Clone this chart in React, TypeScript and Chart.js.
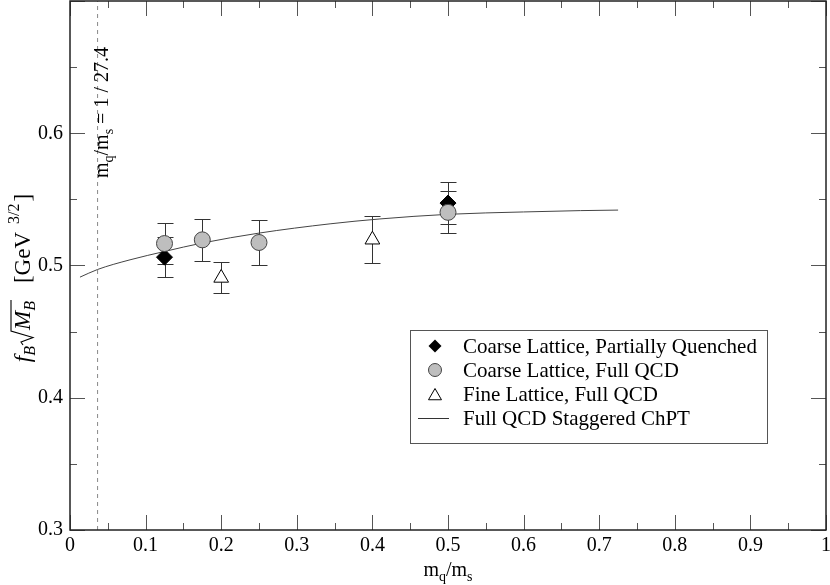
import React, { useEffect, useRef } from 'react';
import { Chart, registerables } from 'chart.js';

Chart.register(...registerables);

const SERIF = '"Liberation Serif", "DejaVu Serif", "Times New Roman", serif';

// Axis ticks
const xTickValues = [0, 0.1, 0.2, 0.3, 0.4, 0.5, 0.6, 0.7, 0.8, 0.9, 1];
const xTickLabels = ['0', '0.1', '0.2', '0.3', '0.4', '0.5', '0.6', '0.7', '0.8', '0.9', '1'];
const yTickValues = [0.3, 0.4, 0.5, 0.6, 0.7];
const yTickLabels = ['0.3', '0.4', '0.5', '0.6', ''];
const xMinorValues = [0.05, 0.15, 0.25, 0.35, 0.45, 0.55, 0.65, 0.75, 0.85, 0.95];
const yMinorValues = [0.35, 0.45, 0.55, 0.65];

// Coarse Lattice, Partially Quenched (diamonds)
const pqX = [0.125, 0.5];
const pqY = [0.5063, 0.5472];
const pqErr = [0.0151, 0.0157];

// Coarse Lattice, Full QCD (grey circles)
const fullX = [0.125, 0.175, 0.25, 0.5];
const fullY = [0.5166, 0.5194, 0.5174, 0.5402];
const fullErr = [0.0158, 0.0158, 0.0168, 0.0158];

// Fine Lattice, Full QCD (open triangles)
const fineX = [0.2, 0.4];
const fineY = [0.4906, 0.5195];
const fineErr = [0.0117, 0.0177];

// Full QCD Staggered ChPT curve
const fitX = [0.0132, 0.0365, 0.0794, 0.125, 0.175, 0.25, 0.344, 0.41, 0.5, 0.6, 0.675, 0.725];
const fitY = [0.4912, 0.497, 0.5043, 0.5106, 0.517, 0.5245, 0.5315, 0.5352, 0.5387, 0.5405, 0.5415, 0.5419];

// Physical light quark mass ratio
const chiralX = 1 / 27.4;

const legendLabels = [
  'Coarse Lattice, Partially Quenched',
  'Coarse Lattice, Full QCD',
  'Fine Lattice, Full QCD',
  'Full QCD Staggered ChPT',
];

const pts = (xs: number[], ys: number[]) => xs.map((x, i) => ({ x, y: ys[i] }));

function drawDiamond(ctx: CanvasRenderingContext2D, x: number, y: number, r: number) {
  ctx.beginPath();
  ctx.moveTo(x, y - r);
  ctx.lineTo(x + r, y);
  ctx.lineTo(x, y + r);
  ctx.lineTo(x - r, y);
  ctx.closePath();
  ctx.fillStyle = '#000';
  ctx.fill();
}
function drawCircle(ctx: CanvasRenderingContext2D, x: number, y: number, r: number) {
  ctx.beginPath();
  ctx.arc(x, y, r, 0, Math.PI * 2);
  ctx.fillStyle = '#bebebe';
  ctx.fill();
  ctx.strokeStyle = '#444';
  ctx.lineWidth = 1;
  ctx.stroke();
}
function drawTriangle(ctx: CanvasRenderingContext2D, x: number, y: number, r: number) {
  ctx.beginPath();
  for (let k = 0; k < 3; k++) {
    const a = (k * 2 * Math.PI) / 3;
    const px = x + Math.sin(a) * r;
    const py = y - Math.cos(a) * r;
    if (k === 0) ctx.moveTo(px, py);
    else ctx.lineTo(px, py);
  }
  ctx.closePath();
  ctx.fillStyle = '#fff';
  ctx.fill();
  ctx.strokeStyle = '#000';
  ctx.lineWidth = 1;
  ctx.stroke();
}

const customPlugin = {
  id: 'customDecor',
  beforeDatasetsDraw(chart: any) {
    const ctx: CanvasRenderingContext2D = chart.ctx;
    const xs = chart.scales.x;
    const ys = chart.scales.y;
    ctx.save();
    ctx.strokeStyle = '#333';
    ctx.lineWidth = 1;
    const groups: [number[], number[], number[]][] = [
      [pqX, pqY, pqErr],
      [fullX, fullY, fullErr],
      [fineX, fineY, fineErr],
    ];
    for (const [gx, gy, ge] of groups) {
      gx.forEach((xv, i) => {
        const px = Math.round(xs.getPixelForValue(xv)) + 0.5;
        const top = Math.round(ys.getPixelForValue(gy[i] + ge[i])) + 0.5;
        const bot = Math.round(ys.getPixelForValue(gy[i] - ge[i])) + 0.5;
        ctx.beginPath();
        ctx.moveTo(px, top);
        ctx.lineTo(px, bot);
        ctx.moveTo(px - 8, top);
        ctx.lineTo(px + 8, top);
        ctx.moveTo(px - 8, bot);
        ctx.lineTo(px + 8, bot);
        ctx.stroke();
      });
    }
    ctx.restore();
  },
  afterDraw(chart: any) {
    const ctx: CanvasRenderingContext2D = chart.ctx;
    const xs = chart.scales.x;
    const ys = chart.scales.y;
    const { left, right, top, bottom } = chart.chartArea;
    ctx.save();

    // inward ticks on all four sides
    ctx.strokeStyle = '#555';
    ctx.lineWidth = 1;
    const major = 15;
    const minor = 7;
    const drawX = (v: number, len: number) => {
      const px = Math.round(xs.getPixelForValue(v)) + 0.5;
      ctx.beginPath();
      ctx.moveTo(px, bottom);
      ctx.lineTo(px, bottom - len);
      ctx.moveTo(px, top);
      ctx.lineTo(px, top + len);
      ctx.stroke();
    };
    const drawY = (v: number, len: number) => {
      const py = Math.round(ys.getPixelForValue(v)) + 0.5;
      ctx.beginPath();
      ctx.moveTo(left, py);
      ctx.lineTo(left + len, py);
      ctx.moveTo(right, py);
      ctx.lineTo(right - len, py);
      ctx.stroke();
    };
    xTickValues.forEach((v) => drawX(v, major));
    xMinorValues.forEach((v) => drawX(v, minor));
    yTickValues.forEach((v) => drawY(v, major));
    yMinorValues.forEach((v) => drawY(v, minor));

    // frame
    ctx.strokeStyle = '#222';
    ctx.lineWidth = 1.5;
    ctx.strokeRect(left, top, right - left, bottom - top);

    // tick labels
    ctx.fillStyle = '#000';
    ctx.font = `20px ${SERIF}`;
    ctx.textAlign = 'center';
    ctx.textBaseline = 'middle';
    xTickValues.forEach((v, i) => ctx.fillText(xTickLabels[i], xs.getPixelForValue(v), bottom + 16));
    ctx.textAlign = 'right';
    yTickValues.forEach((v, i) => ctx.fillText(yTickLabels[i], left - 7, ys.getPixelForValue(v)));

    // legend
    const bx = 410.5, by = 330.5, bw = 357, bh = 113;
    ctx.fillStyle = '#fff';
    ctx.fillRect(bx, by, bw, bh);
    ctx.strokeStyle = '#555';
    ctx.lineWidth = 1;
    ctx.strokeRect(bx, by, bw, bh);
    const rowsY = [346, 370, 394, 418];
    const symX = 435;
    drawDiamond(ctx, symX, rowsY[0], 6.5);
    drawCircle(ctx, symX, rowsY[1], 6.5);
    drawTriangle(ctx, symX, rowsY[2] + 2, 7.5);
    ctx.beginPath();
    ctx.strokeStyle = '#333';
    ctx.lineWidth = 1;
    ctx.moveTo(418, rowsY[3] + 0.5);
    ctx.lineTo(449, rowsY[3] + 0.5);
    ctx.stroke();
    ctx.fillStyle = '#000';
    ctx.font = `21px ${SERIF}`;
    ctx.textAlign = 'left';
    ctx.textBaseline = 'middle';
    legendLabels.forEach((t, i) => ctx.fillText(t, 463, rowsY[i] + 1));

    // x axis title: m_q/m_s
    ctx.textBaseline = 'alphabetic';
    const big = `20px ${SERIF}`;
    const small = `14px ${SERIF}`;
    const xParts: [string, string, number][] = [
      ['m', big, 0],
      ['q', small, 5],
      ['/m', big, 0],
      ['s', small, 5],
    ];
    let tw = 0;
    xParts.forEach(([t, f]) => { ctx.font = f; tw += ctx.measureText(t).width; });
    let cx = 448 - tw / 2;
    xParts.forEach(([t, f, dy]) => {
      ctx.font = f;
      ctx.fillText(t, cx, 576 + dy);
      cx += ctx.measureText(t).width;
    });

    // y axis title: f_B sqrt(M_B) [GeV^{3/2}]
    ctx.save();
    ctx.translate(30, 278);
    ctx.rotate(-Math.PI / 2);
    const it = `italic 23px ${SERIF}`;
    const itS = `italic 16px ${SERIF}`;
    const norm = `23px ${SERIF}`;
    const sm = `16px ${SERIF}`;
    ctx.font = it; const wf = ctx.measureText('f').width;
    ctx.font = itS; const wB = ctx.measureText('B').width;
    ctx.font = it; const wM = ctx.measureText('M').width;
    ctx.font = norm; const wG = ctx.measureText('[GeV').width;
    ctx.font = sm; const w32 = ctx.measureText('3/2').width;
    ctx.font = norm; const wBr = ctx.measureText(']').width;
    const radW = 15;
    const gap = 18;
    const supGap = 8;
    const total = wf + wB + 1 + radW + wM + wB + gap + wG + supGap + w32 + 2 + wBr;
    let p = -total / 2;
    ctx.font = it; ctx.fillText('f', p, 0); p += wf;
    ctx.font = itS; ctx.fillText('B', p, 5); p += wB + 1;
    // radical sign
    ctx.beginPath();
    ctx.strokeStyle = '#000';
    ctx.lineWidth = 1.1;
    ctx.moveTo(p, -7);
    ctx.lineTo(p + 3, -9);
    ctx.lineTo(p + 7.5, 3);
    ctx.lineTo(p + 14, -19);
    ctx.lineTo(p + radW + wM + wB + 1, -19);
    ctx.stroke();
    p += radW;
    ctx.font = it; ctx.fillText('M', p, 0); p += wM;
    ctx.font = itS; ctx.fillText('B', p, 5); p += wB + gap;
    ctx.font = norm; ctx.fillText('[GeV', p, 0); p += wG + supGap;
    ctx.font = sm; ctx.fillText('3/2', p, -11); p += w32 + 2;
    ctx.font = norm; ctx.fillText(']', p, 0);
    ctx.restore();

    // annotation at the chiral line
    ctx.save();
    ctx.translate(108, 178);
    ctx.rotate(-Math.PI / 2);
    const aParts: [string, string, number][] = [
      ['m', big, 0],
      ['q', small, 5],
      ['/m', big, 0],
      ['s', small, 5],
      [' = 1 / 27.4', big, 0],
    ];
    let ap = 0;
    aParts.forEach(([t, f, dy]) => {
      ctx.font = f;
      ctx.fillText(t, ap, dy);
      ap += ctx.measureText(t).width;
    });
    ctx.restore();

    ctx.restore();
  },
};

const zeroPad = (s: any) => {
  s.paddingTop = 0;
  s.paddingBottom = 0;
  s.paddingLeft = 0;
  s.paddingRight = 0;
};

export default function App() {
  const ref = useRef<HTMLCanvasElement | null>(null);
  useEffect(() => {
    if (!ref.current) return;
    const chart = new Chart(ref.current, {
      type: 'line',
      data: {
        datasets: [
          {
            label: legendLabels[1],
            data: pts(fullX, fullY),
            showLine: false,
            pointStyle: 'circle',
            pointRadius: 8,
            backgroundColor: '#bebebe',
            borderColor: '#444',
            borderWidth: 1,
            order: 0,
          },
          {
            label: legendLabels[0],
            data: pts(pqX, pqY),
            showLine: false,
            pointStyle: 'rectRot',
            pointRadius: 8,
            backgroundColor: '#000',
            borderColor: '#000',
            borderWidth: 1,
            order: 1,
          },
          {
            label: legendLabels[2],
            data: pts(fineX, fineY),
            showLine: false,
            pointStyle: 'triangle',
            pointRadius: 8.5,
            backgroundColor: '#fff',
            borderColor: '#000',
            borderWidth: 1,
            order: 2,
          },
          {
            label: legendLabels[3],
            data: pts(fitX, fitY),
            borderColor: '#444',
            borderWidth: 1,
            pointRadius: 0,
            cubicInterpolationMode: 'monotone',
            fill: false,
            order: 3,
          },
          {
            label: 'chiral limit',
            data: [{ x: chiralX, y: 0.3 }, { x: chiralX, y: 0.7 }],
            borderColor: '#888',
            borderWidth: 1,
            borderDash: [4, 4],
            pointRadius: 0,
            fill: false,
            order: 4,
          },
        ] as any,
      },
      options: {
        animation: false,
        responsive: false,
        layout: { autoPadding: false, padding: { top: 1, right: 4, left: 0, bottom: 0 } },
        plugins: { legend: { display: false }, tooltip: { enabled: false } },
        scales: {
          x: {
            type: 'linear',
            min: 0,
            max: 1,
            afterFit: (s: any) => { s.height = 55; zeroPad(s); },
            grid: { display: false, drawTicks: false },
            border: { display: false },
            ticks: { display: false },
          },
          y: {
            type: 'linear',
            min: 0.3,
            max: 0.7,
            afterFit: (s: any) => { s.width = 70; zeroPad(s); },
            grid: { display: false, drawTicks: false },
            border: { display: false },
            ticks: { display: false },
          },
        },
      } as any,
      plugins: [customPlugin],
    });
    return () => chart.destroy();
  }, []);
  return (
    <div style={{ position: 'fixed', left: 0, top: 0, width: 830, height: 585, background: '#fff' }}>
      <canvas ref={ref} width={830} height={585} />
    </div>
  );
}
